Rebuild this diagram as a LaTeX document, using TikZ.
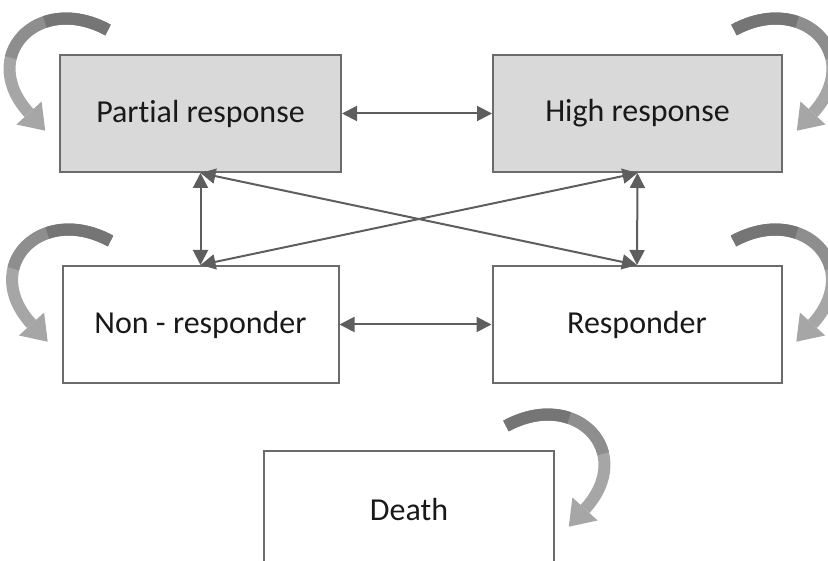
\documentclass[tikz,border=0pt]{standalone}
\usepackage{fontspec}
\setmainfont{Carlito}[Ligatures=NoCommon]
\usetikzlibrary{arrows.meta, positioning}
\definecolor{boxgray}{HTML}{D9D9D9}
\definecolor{edgegray}{HTML}{6B6B6B}
\definecolor{linkgray}{HTML}{5E5E5E}
\definecolor{looplight}{HTML}{A6A6A6}
\definecolor{loopmid}{HTML}{8E8E8E}
\definecolor{loopdark}{HTML}{757575}
\tikzset{
  statebox/.style={rectangle,draw=edgegray,line width=2pt,minimum height=117pt,inner sep=0pt,font=\fontsize{32}{38}\selectfont,text=black!90},
  link/.style={{Triangle[length=15pt,width=15pt]}-{Triangle[length=15pt,width=15pt]}, line width=2pt, color=linkgray},
  loopband/.style={line width=12pt},
  selfloop/.pic={
    \draw[loopband, looplight] (49,-24) .. controls (-21,-62) and (-82,2) .. (-30,59);
    \fill[looplight] (-17.4,47.5) -- (-13.8,76.7) -- (-42.6,70.5) -- cycle;
    \draw[loopband, loopmid] (49,-24) .. controls (2.33,-49.33) and (-40.33,-29.33) .. (-48.19,3.70);
    \draw[loopband, loopdark] (49,-24) .. controls (25.67,-36.67) and (3.33,-38) .. (-14.15,-32.04);
  }
}

\begin{document}
\begin{tikzpicture}[x=1pt,y=-1pt]
  \useasboundingbox (0,0) rectangle (828,561);
  \node[statebox, fill=boxgray, minimum width=281pt] (part) at (200.5,113.5) {Partial response};
  \node[statebox, fill=boxgray, minimum width=289pt, right=150pt of part] (high) {High response};
  \node[statebox, minimum width=276pt, below=92pt of part] (non) {Non - responder};
  \node[statebox, minimum width=289pt, right=152pt of non] (resp) {Responder};
  \node[statebox, minimum width=290pt, anchor=north] (death) at (409,450) {Death};
  % transitions between states
  \draw[link] (part) -- (high);
  \draw[link] (non) -- (resp);
  \draw[link] (part.south) -- (non.north);
  \draw[link] (high.south) -- (resp.north);
  \draw[link] (part.south) -- (resp.north);
  \draw[link] (high.south) -- (non.north);
  % staying in the same state
  \pic at (part.north west) {selfloop};
  \pic at (non.north west) {selfloop};
  \pic[xscale=-1] at (high.north east) {selfloop};
  \pic[xscale=-1] at (resp.north east) {selfloop};
  \pic[xscale=-1] at (death.north east) {selfloop};
\end{tikzpicture}
\end{document}
